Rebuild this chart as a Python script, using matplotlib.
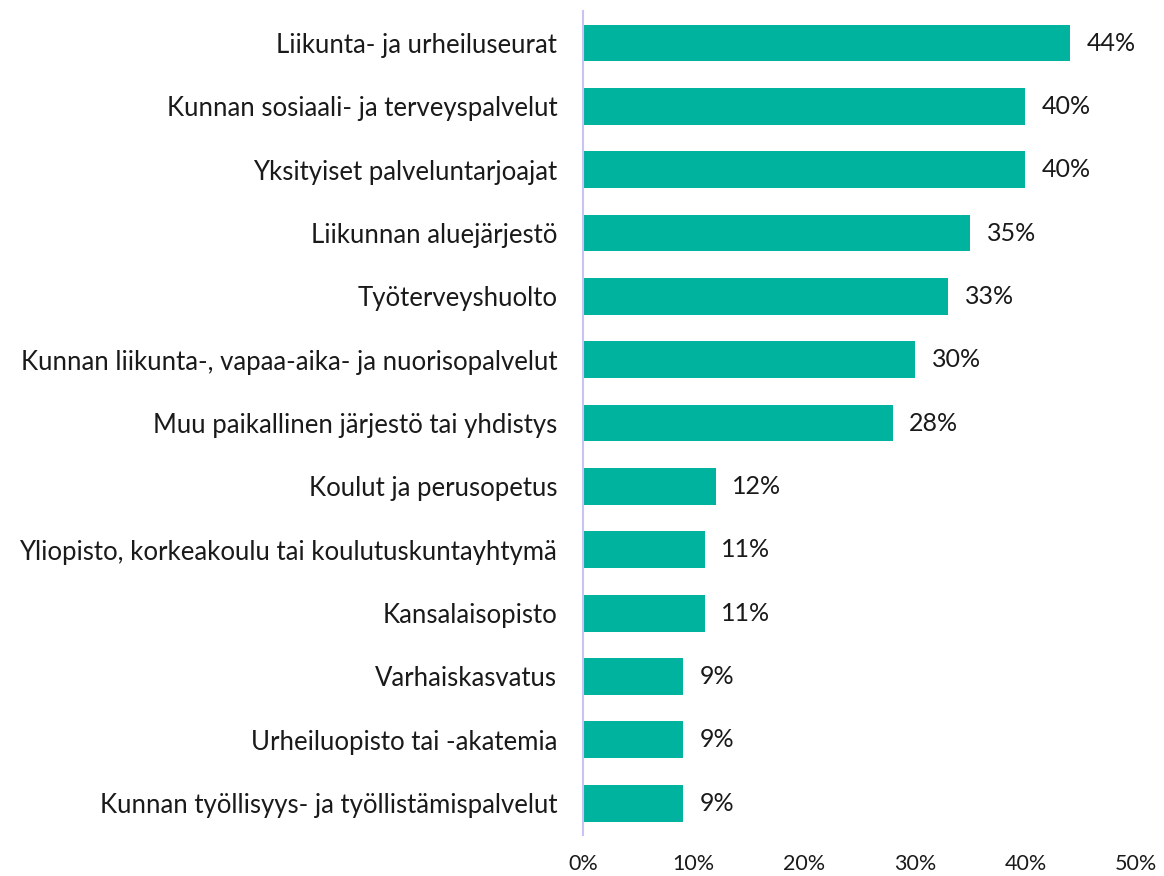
import matplotlib.pyplot as plt
from matplotlib.ticker import FuncFormatter

# Data
categories = [
    "Liikunta- ja urheiluseurat",
    "Kunnan sosiaali- ja terveyspalvelut",
    "Yksityiset palveluntarjoajat",
    "Liikunnan aluejärjestö",
    "Työterveyshuolto",
    "Kunnan liikunta-, vapaa-aika- ja nuorisopalvelut",
    "Muu paikallinen järjestö tai yhdistys",
    "Koulut ja perusopetus",
    "Yliopisto, korkeakoulu tai koulutuskuntayhtymä",
    "Kansalaisopisto",
    "Varhaiskasvatus",
    "Urheiluopisto tai -akatemia",
    "Kunnan työllisyys- ja työllistämispalvelut",
]
values = [44, 40, 40, 35, 33, 30, 28, 12, 11, 11, 9, 9, 9]
xticks = [0, 10, 20, 30, 40, 50]

plt.rcParams['font.family'] = ['Lato', 'DejaVu Sans']

fig = plt.figure(figsize=(11.64, 8.76), dpi=100)
ax = fig.add_axes([0.501, 0.047, 0.475, 0.94])

y = range(len(categories))
ax.barh(y, values, height=0.58, color='#00B39E')

for i, v in enumerate(values):
    ax.text(v + 1.5, i, f"{v}%", va='center', ha='left', fontsize=18, color='#1a1a1a')

ax.set_ylim(len(categories) - 0.5, -0.5)
ax.set_xlim(0, 50)
ax.set_yticks(list(y))
ax.set_yticklabels(categories, fontsize=18.5, color='#1a1a1a')
ax.set_xticks(xticks)
ax.xaxis.set_major_formatter(FuncFormatter(lambda x, p: f"{int(x)}%"))
ax.tick_params(axis='x', length=0, labelsize=15.5, pad=14, colors='#1a1a1a')
ax.tick_params(axis='y', length=0, pad=18.7)

for s in ['top', 'right', 'bottom']:
    ax.spines[s].set_visible(False)
ax.spines['left'].set_color('#C9C2F5')
ax.spines['left'].set_linewidth(1.5)

fig.savefig("out.png", dpi=100)
